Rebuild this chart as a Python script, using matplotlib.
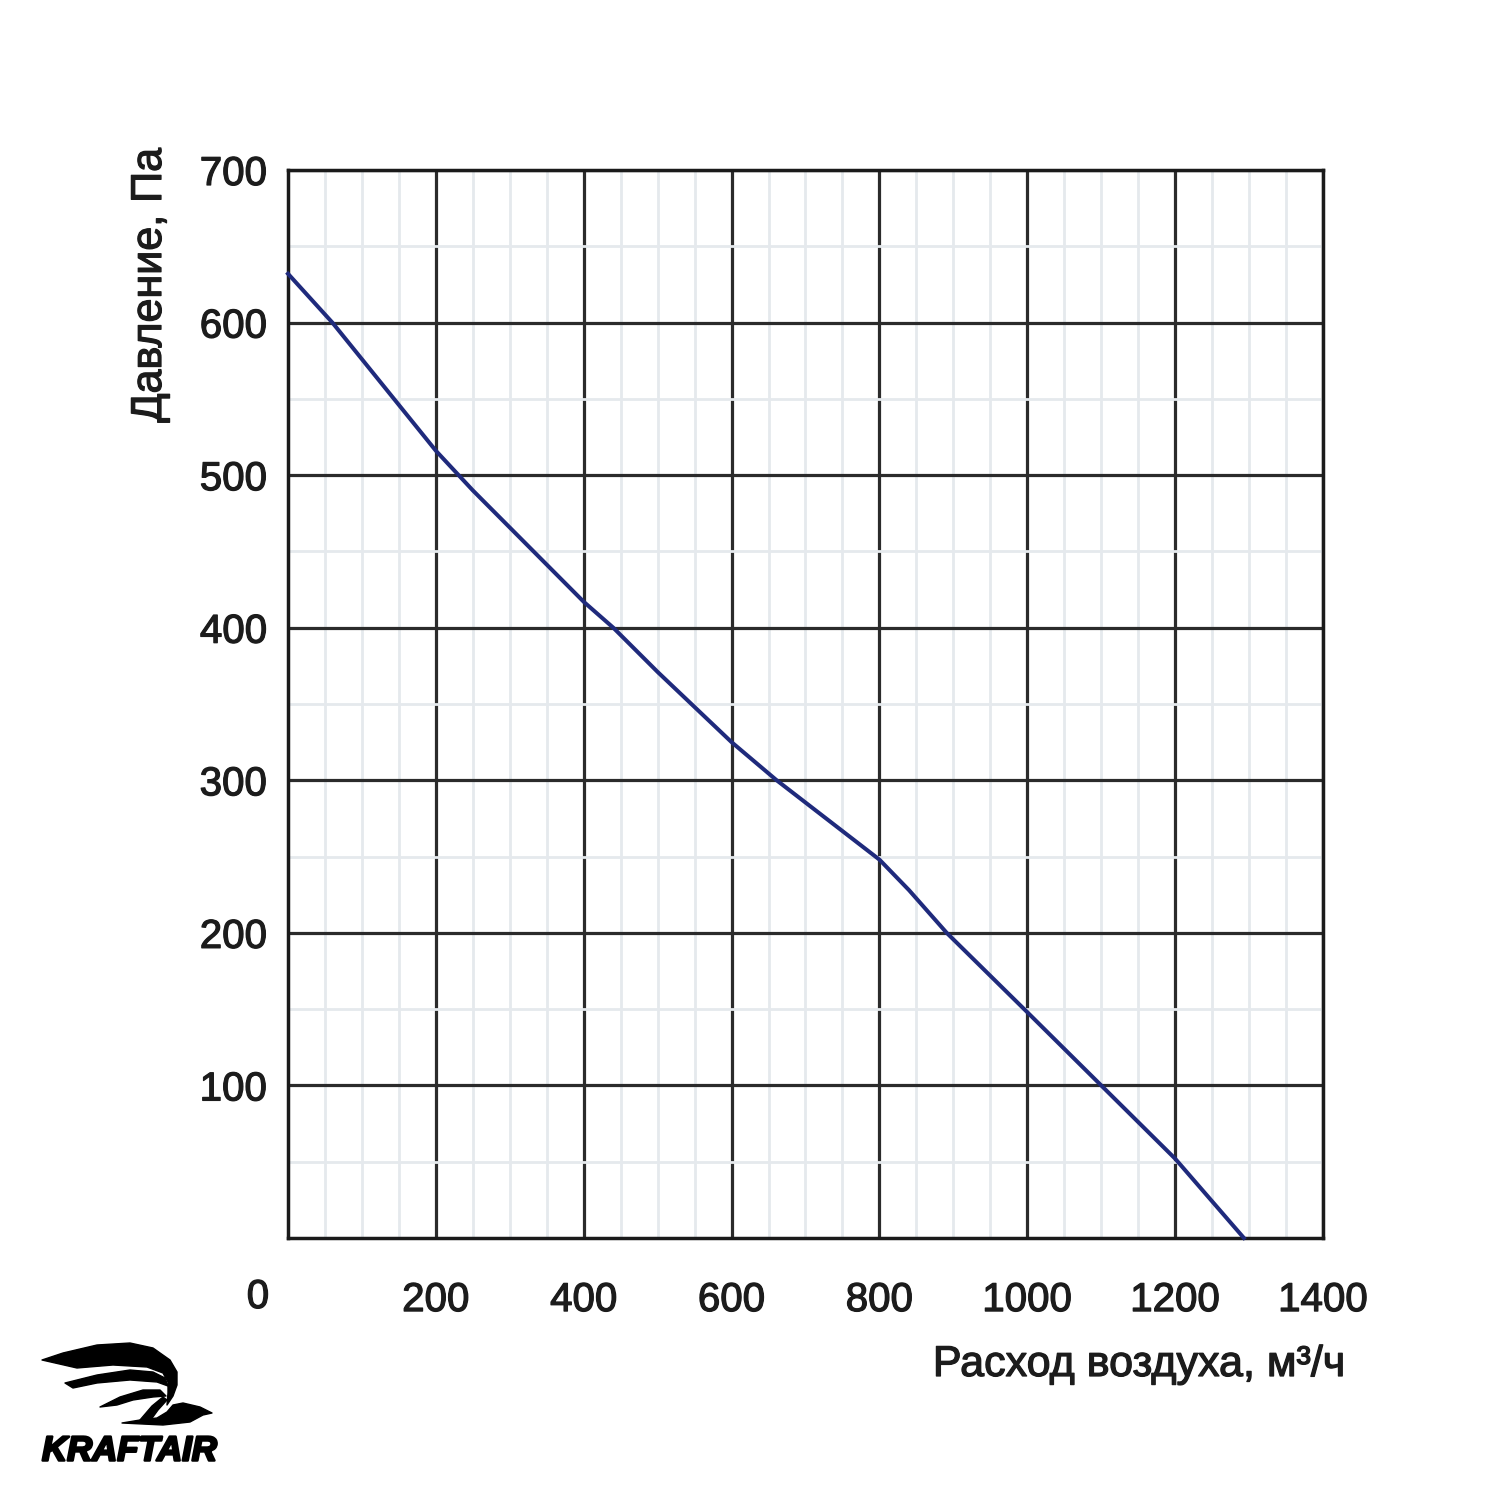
import matplotlib.pyplot as plt
import matplotlib.patheffects as pe
from matplotlib.patches import Polygon
import numpy as np

# fan curve
flow = [0, 60, 200, 250, 400, 440, 500, 600, 661, 800, 840, 891, 1000, 1100, 1200, 1293]
pressure = [632, 600, 516, 490, 417, 400, 371, 325, 300, 248, 228, 200, 148, 100, 52, 0]

x_ticks = [200, 400, 600, 800, 1000, 1200, 1400]
y_ticks = [100, 200, 300, 400, 500, 600, 700]

plt.rcParams['font.family'] = ['Liberation Sans', 'DejaVu Sans']
txt_color = '#1c1c1c'
# the scan's text is a bit heavier than a plain regular face
heavy = [pe.withStroke(linewidth=0.9, foreground=txt_color)]

fig = plt.figure(figsize=(15, 15), dpi=100)
ax = fig.add_axes([288 / 1500, 1 - 1238 / 1500, 1035 / 1500, 1068 / 1500])

ax.set_xlim(0, 1400)
ax.set_ylim(0, 700)

# light minor grid every 50, dark major grid
ax.set_xticks(np.arange(50, 1400, 50), minor=True)
ax.set_yticks(np.arange(50, 700, 50), minor=True)
ax.grid(which='minor', color='#e5e9ed', linewidth=2.0, zorder=0)
ax.set_xticks(x_ticks)
ax.set_yticks(y_ticks)
ax.grid(which='major', color='#2b2b2b', linewidth=2.3, zorder=1)
ax.tick_params(which='both', length=0)
ax.tick_params(axis='y', pad=15, labelsize=29, labelcolor=txt_color)
ax.tick_params(axis='x', pad=31, labelsize=29, labelcolor=txt_color)
for lab in ax.get_xticklabels() + ax.get_yticklabels():
    lab.set_path_effects(heavy)
for s in ax.spines.values():
    s.set_color('#1a1a1a')
    s.set_linewidth(2.5)

ax.plot(flow, pressure, color='#1f2a7c', linewidth=2.9, zorder=3, clip_on=False)

fig.text(258 / 1500, 1 - 1297 / 1500, '0', ha='center', va='center', fontsize=29,
         color=txt_color, path_effects=heavy)
fig.text(150 / 1500, 1 - 148 / 1500, 'Давление, Па', rotation=90, ha='center', va='top',
         fontsize=31, color=txt_color, path_effects=heavy)
fig.text(1345 / 1500, 1 - 1365 / 1500, 'Расход воздуха, м³/ч', ha='right', va='center',
         fontsize=31, color=txt_color, path_effects=heavy)

# logo drawn in pixel coords on an overlay
lg = fig.add_axes([0, 0, 1, 1])
lg.set_xlim(0, 1500)
lg.set_ylim(1500, 0)
lg.axis('off')
feathers = [
    [(42, 1360), (63, 1353), (97, 1345), (130, 1343), (153, 1348), (170, 1360), (177, 1372),
     (177, 1385), (173, 1396), (167, 1405), (168, 1393), (168, 1382), (163, 1373),
     (147, 1367), (113, 1365), (77, 1368)],
    [(65, 1383), (97, 1375), (130, 1370), (153, 1372), (165, 1378), (168, 1386),
     (157, 1382), (130, 1380), (97, 1383), (73, 1388)],
    [(100, 1407), (120, 1397), (143, 1390), (160, 1390), (166, 1396),
     (153, 1397), (133, 1400), (117, 1405)],
    [(122, 1423), (163, 1425), (190, 1422), (203, 1415), (212, 1413), (200, 1407),
     (183, 1403), (173, 1405), (167, 1412), (157, 1418), (140, 1420)],
    [(140, 1420), (152, 1406), (163, 1397), (167, 1400), (158, 1410), (150, 1421)],
]
for pts in feathers:
    lg.add_patch(Polygon(pts, closed=True, facecolor='black', edgecolor='black',
                         linewidth=1, joinstyle='round'))
lg.text(42, 1451, 'KRAFTAIR', fontsize=25, fontweight='bold', fontstyle='italic',
        ha='left', va='center', color='black',
        path_effects=[pe.withStroke(linewidth=1.8, foreground='black')])

fig.savefig('out.png', dpi=100, facecolor='white')
